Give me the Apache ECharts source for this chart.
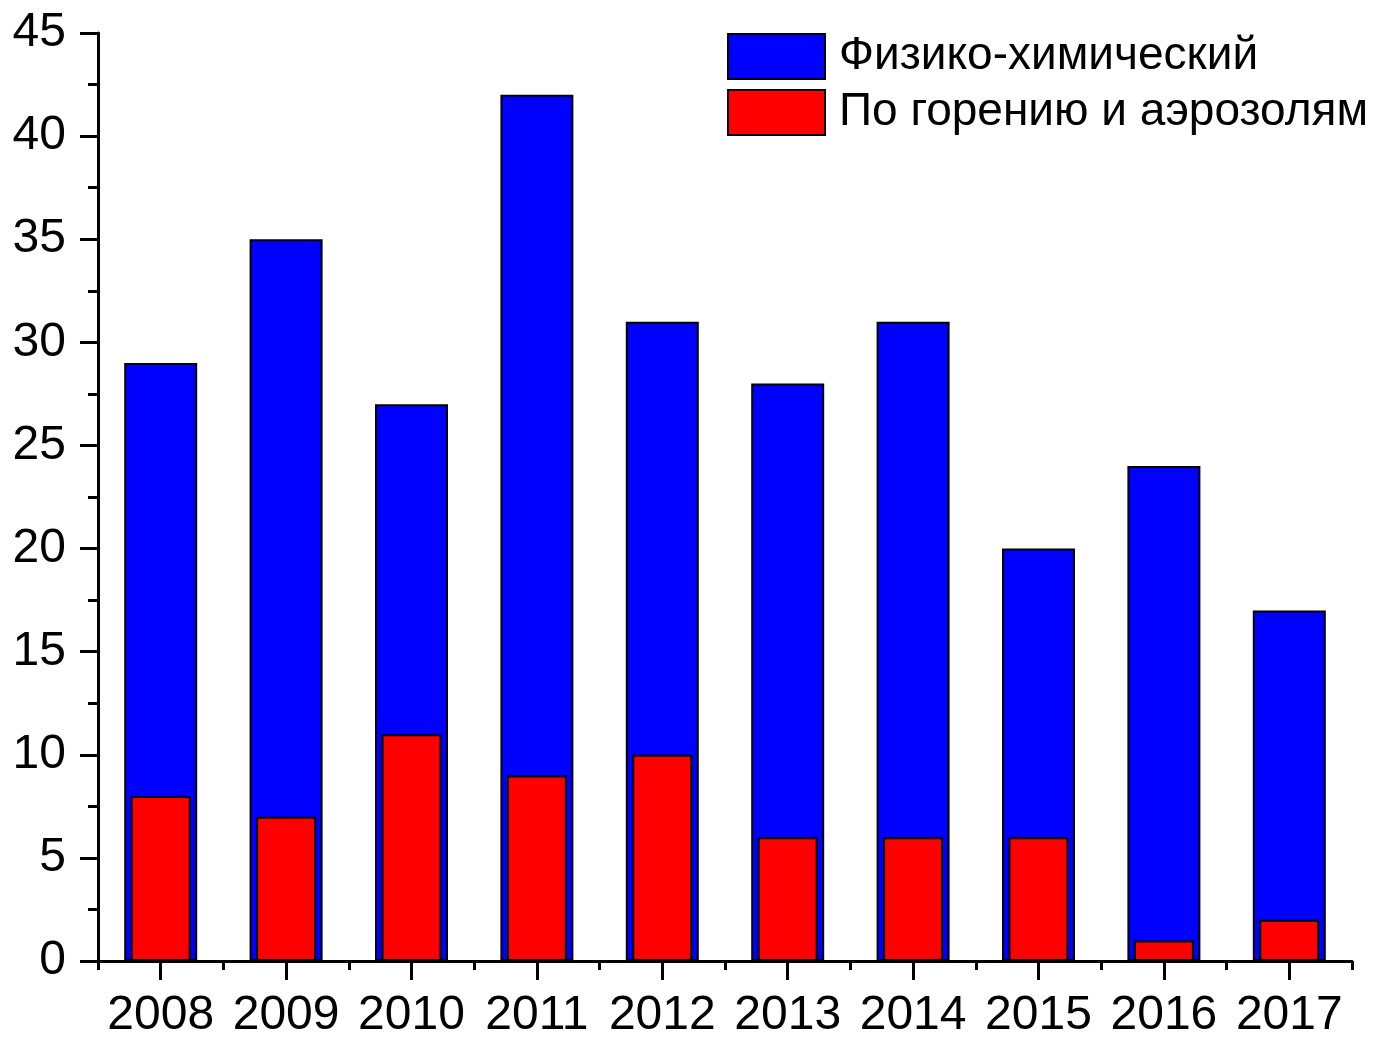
<!DOCTYPE html>
<html>
<head>
    <meta charset="utf-8">
    <title>bars</title>
    <script src="https://cdn.jsdelivr.net/npm/echarts@6/dist/echarts.min.js"></script>
    <style>
        html, body {margin: 0; padding: 0; background: #fff;}
        #main {width: 1373px; height: 1037px;}
    </style>
</head>
<body>
<div id="main"></div>
<script>
    // данные
    var years = ['2008', '2009', '2010', '2011', '2012', '2013', '2014', '2015', '2016', '2017'];
    var physChem = [29, 35, 27, 42, 31, 28, 31, 20, 24, 17];
    var burnAero = [8, 7, 11, 9, 10, 6, 6, 6, 1, 2];
    var seriesNames = ['Физико-химический', 'По горению и аэрозолям'];

    var font = 'Liberation Sans, Arial, sans-serif';
    var myChart = echarts.init(document.getElementById('main'));

    var option = {
        animation: false,
        backgroundColor: '#fff',
        textStyle: {fontFamily: font},
        grid: {left: 98, right: 21, top: 33, bottom: 76, containLabel: false, outerBoundsMode: 'none'},
        legend: {
            orient: 'vertical',
            left: 722,
            top: 28,
            itemWidth: 97,
            itemHeight: 45,
            itemGap: 9,
            icon: 'rect',
            data: seriesNames,
            textStyle: {fontSize: 46, color: '#000', fontFamily: font, padding: [6, 0, 0, 9]}
        },
        xAxis: [{
            type: 'category',
            data: years,
            position: 'bottom',
            axisLine: {show: true, lineStyle: {color: '#000', width: 3}},
            axisTick: {show: true, alignWithLabel: true, length: 19, lineStyle: {color: '#000', width: 3}},
            axisLabel: {interval: 0, hideOverlap: false, fontSize: 48, color: '#000', margin: 31, fontFamily: font}
        }, {
            // вторая ось - только короткие засечки на границах
            type: 'category',
            data: years,
            position: 'bottom',
            axisLine: {show: false},
            axisTick: {show: true, interval: 0, length: 9, lineStyle: {color: '#000', width: 3}},
            axisLabel: {show: false}
        }],
        yAxis: {
            type: 'value',
            min: 0,
            max: 45,
            interval: 5,
            axisLine: {show: true, lineStyle: {color: '#000', width: 3}},
            axisTick: {show: true, length: 18, lineStyle: {color: '#000', width: 3}},
            minorTick: {show: true, splitNumber: 2, length: 10, lineStyle: {color: '#000', width: 3}},
            splitLine: {show: false},
            axisLabel: {fontSize: 48, color: '#000', margin: 32, fontFamily: font}
        },
        series: [{
            name: seriesNames[0],
            type: 'bar',
            xAxisIndex: 0,
            data: physChem,
            barWidth: 73,
            itemStyle: {color: '#0000ff', borderColor: '#000', borderWidth: 2}
        }, {
            name: seriesNames[1],
            type: 'bar',
            xAxisIndex: 1,
            data: burnAero,
            barWidth: 60,
            z: 3,
            itemStyle: {color: '#ff0000', borderColor: '#000', borderWidth: 2}
        }]
    };
    myChart.setOption(option);
</script>
</body>
</html>
